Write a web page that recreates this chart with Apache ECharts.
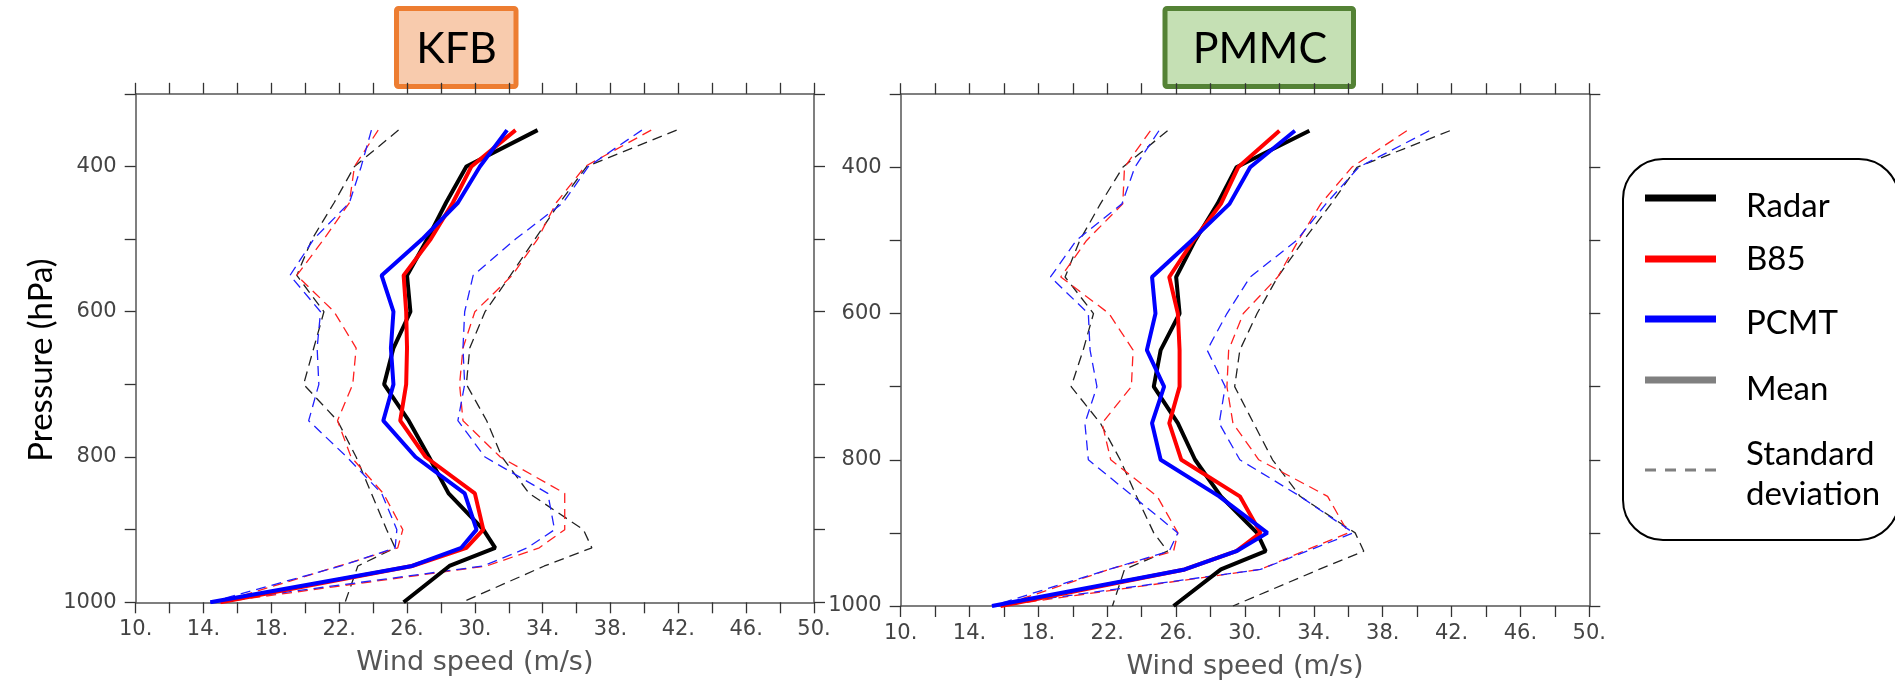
<!DOCTYPE html>
<html>
<head>
<meta charset="utf-8">
<script src="https://cdn.jsdelivr.net/npm/echarts@6/dist/echarts.min.js"></script>
<style>
html,body{margin:0;padding:0;background:#fff;}
#chart{width:1895px;height:685px;}
</style>
</head>
<body>
<div id="chart"></div>
<script>
// ---- Data ----
const pressure = [350,400,450,500,550,600,650,700,750,800,850,900,925,950,1000];
const xTicks = [10,14,18,22,26,30,34,38,42,46,50];
const yTicks = [400,600,800,1000];
const panelTitles = ['KFB','PMMC'];
const legendNames = ['Radar','B85','PCMT','Mean','Standard\ndeviation'];

// KFB panel
const radarKFB    = [33.7,29.5,28.3,27.2,26.0,26.2,25.2,24.65,26.1,27.3,28.45,30.5,31.2,28.5,25.8];
const b85KFB      = [32.4,29.8,28.7,27.4,25.8,25.95,26.0,25.95,25.6,27.1,30.0,30.5,29.5,26.3,15.0];
const pcmtKFB     = [31.9,30.3,29.0,26.9,24.5,25.2,25.05,25.2,24.6,26.5,29.4,30.1,29.2,26.3,14.4];
const radarKFBLo  = [25.5,22.9,21.7,20.4,19.5,21.1,20.5,19.9,21.9,23.0,23.9,24.8,25.3,23.1,22.35];
const radarKFBHi  = [41.9,36.6,35.0,33.55,32.1,30.6,29.7,29.5,30.7,31.6,33.2,36.4,36.9,34.1,29.25];
const b85KFBLo    = [24.3,22.9,22.6,21.1,19.5,21.7,23.0,22.8,21.9,22.7,24.6,25.75,25.45,22.0,15.0];
const b85KFBHi    = [40.4,36.5,34.8,33.7,32.2,30.0,29.3,29.1,29.3,31.5,35.3,35.3,33.8,30.7,15.0];
const pcmtKFBLo   = [23.9,23.3,22.6,20.5,19.1,20.9,20.7,20.8,20.2,22.45,24.5,25.4,25.3,22.1,14.4];
const pcmtKFBHi   = [39.85,36.7,35.2,32.4,29.9,29.4,29.3,29.4,29.0,30.6,34.3,34.7,33.1,30.5,14.4];

// PMMC panel
const radarPMMC   = [33.74,29.5,28.4,27.1,26.0,26.2,25.1,24.7,26.1,27.1,28.6,30.7,31.2,28.6,25.85];
const b85PMMC     = [32.0,29.6,28.6,27.0,25.6,26.1,26.2,26.2,25.6,26.3,29.7,30.9,29.5,26.5,15.8];
const pcmtPMMC    = [32.9,30.3,29.1,26.9,24.6,24.8,24.3,25.3,24.6,25.1,28.5,31.3,29.5,26.5,15.3];
const radarPMMCLo = [25.5,22.9,21.6,20.4,19.55,21.2,20.6,19.9,21.6,22.75,23.7,24.7,25.5,23.0,22.3];
const radarPMMCHi = [41.9,36.5,35.0,33.4,31.9,30.7,29.7,29.4,30.5,31.6,33.2,36.4,36.9,34.3,29.3];
const b85PMMCLo   = [24.5,23.0,22.9,20.8,19.3,22.1,23.5,23.4,21.7,22.2,24.9,26.1,25.85,22.1,15.8];
const b85PMMCHi   = [39.4,36.2,34.4,33.1,31.9,29.9,29.05,28.95,29.3,30.8,34.8,36.0,33.4,30.9,15.8];
const pcmtPMMCLo  = [25.0,23.6,22.85,20.2,18.7,20.9,21.0,21.4,20.7,20.9,23.5,26.1,25.6,22.1,15.3];
const pcmtPMMCHi  = [40.7,36.6,34.7,33.0,30.3,28.95,27.8,28.85,28.5,29.7,33.2,36.3,33.6,30.9,15.3];

// ---- Chart ----
const chart = echarts.init(document.getElementById('chart'), null, {renderer:'canvas'});
const tickFont = '"DejaVu Sans", "Verdana", sans-serif';
const axisLineStyle = {color:'#555', width:1.5};
const tickStyle = {color:'#333', width:1.3};

function pairs(vals){ return vals.map((v,i)=>[v, pressure[i]]); }

function xAxisFor(grid, pos){
  const main = pos === 'bottom';
  return {
    gridIndex:grid, type:'value', position:pos, min:10, max:50, interval:2,
    axisLine:{show:true, onZero:false, lineStyle:axisLineStyle},
    axisTick:{show:true, inside:false, length:11, lineStyle:tickStyle},
    axisLabel:{show:main, margin:17, fontFamily:tickFont, fontSize:21, color:'#444',
      formatter:v => xTicks.includes(v) ? v + '.' : ''},
    splitLine:{show:false},
    name: main ? 'Wind speed (m/s)' : '',
    nameLocation:'middle', nameGap:47,
    nameTextStyle:{fontFamily:tickFont, fontSize:27, color:'#555'}
  };
}
function yAxisFor(grid, pos){
  const main = pos === 'left';
  return {
    gridIndex:grid, type:'value', position:pos, inverse:true, min:300, max:1000, interval:100,
    axisLine:{show:true, onZero:false, lineStyle:axisLineStyle},
    axisTick:{show:true, inside:false, length:11, lineStyle:tickStyle},
    axisLabel:{show:main, margin:19, fontFamily:tickFont, fontSize:21, color:'#444',
      formatter:v => yTicks.includes(v) ? String(v) : ''},
    splitLine:{show:false}
  };
}

const series = [];
function addPanel(grid, mean, lo, hi){
  const cols = ['#000000','#ff0000','#0000ff'];
  const dashCols = ['#222222','#ff2020','#2020ff'];
  for (let k=0;k<3;k++){
    [lo[k], hi[k]].forEach(arr => series.push({
      type:'line', xAxisIndex:grid*2, yAxisIndex:grid*2, data:pairs(arr),
      symbol:'none', silent:true, z:2,
      lineStyle:{color:dashCols[k], width:1.3, type:[10,6]}
    }));
  }
  for (let k=0;k<3;k++){
    series.push({
      type:'line', xAxisIndex:grid*2, yAxisIndex:grid*2, data:pairs(mean[k]),
      symbol:'none', silent:true, z:3+k,
      lineStyle:{color:cols[k], width:4}
    });
  }
}
addPanel(0, [radarKFB,b85KFB,pcmtKFB], [radarKFBLo,b85KFBLo,pcmtKFBLo], [radarKFBHi,b85KFBHi,pcmtKFBHi]);
addPanel(1, [radarPMMC,b85PMMC,pcmtPMMC], [radarPMMCLo,b85PMMCLo,pcmtPMMCLo], [radarPMMCHi,b85PMMCHi,pcmtPMMCHi]);

const legendY = [198,259,319,380,470];
const legendTextY = [206,259,323,389];
const legendColors = ['#000000','#ff0000','#0000ff','#808080'];
const graphics = [];
// Pressure axis title
graphics.push({type:'text', x:41, y:360, rotation:Math.PI/2,
  style:{text:'Pressure (hPa)', font:'33px Lato', fill:'#000', textAlign:'center', textVerticalAlign:'middle'}});
// panel titles
graphics.push({type:'rect', shape:{x:396.5,y:8.5,width:119.5,height:78,r:2},
  style:{fill:'#F8CBAD', stroke:'#ED7D31', lineWidth:5}});
graphics.push({type:'text', x:456.5, y:49, style:{text:panelTitles[0], font:'43px Lato', fill:'#000', textAlign:'center', textVerticalAlign:'middle'}});
graphics.push({type:'rect', shape:{x:1165,y:8.5,width:188.5,height:78,r:2},
  style:{fill:'#C5E0B4', stroke:'#548235', lineWidth:5}});
graphics.push({type:'text', x:1260, y:49, style:{text:panelTitles[1], font:'43px Lato', fill:'#000', textAlign:'center', textVerticalAlign:'middle'}});
// legend box
graphics.push({type:'rect', shape:{x:1623,y:159,width:276,height:381,r:40},
  style:{fill:'#fff', stroke:'#000', lineWidth:2}, z:10});
for (let i=0;i<4;i++){
  graphics.push({type:'line', shape:{x1:1645,y1:legendY[i],x2:1716,y2:legendY[i]},
    style:{stroke:legendColors[i], lineWidth:7}, z:11});
  graphics.push({type:'text', x:1746, y:legendTextY[i],
    style:{text:legendNames[i], font:'33px Lato', fill:'#000', textVerticalAlign:'middle'}, z:11});
}
graphics.push({type:'line', shape:{x1:1645,y1:legendY[4],x2:1716,y2:legendY[4]},
  style:{stroke:'#808080', lineWidth:3, lineDash:[11,9]}, z:11});
graphics.push({type:'text', x:1746, y:474,
  style:{text:legendNames[4], font:'33px Lato', fill:'#000', textVerticalAlign:'middle', lineHeight:40}, z:11});

chart.setOption({
  animation:false,
  backgroundColor:'#fff',
  grid:[
    {left:135.7, top:93.8, width:678.3, height:508.5, containLabel:false},
    {left:900.7, top:94.2, width:688.6, height:515.2, containLabel:false}
  ],
  xAxis:[xAxisFor(0,'bottom'), xAxisFor(0,'top'), xAxisFor(1,'bottom'), xAxisFor(1,'top')],
  yAxis:[yAxisFor(0,'left'), yAxisFor(0,'right'), yAxisFor(1,'left'), yAxisFor(1,'right')],
  series:series,
  graphic:graphics
});
</script>
</body>
</html>
